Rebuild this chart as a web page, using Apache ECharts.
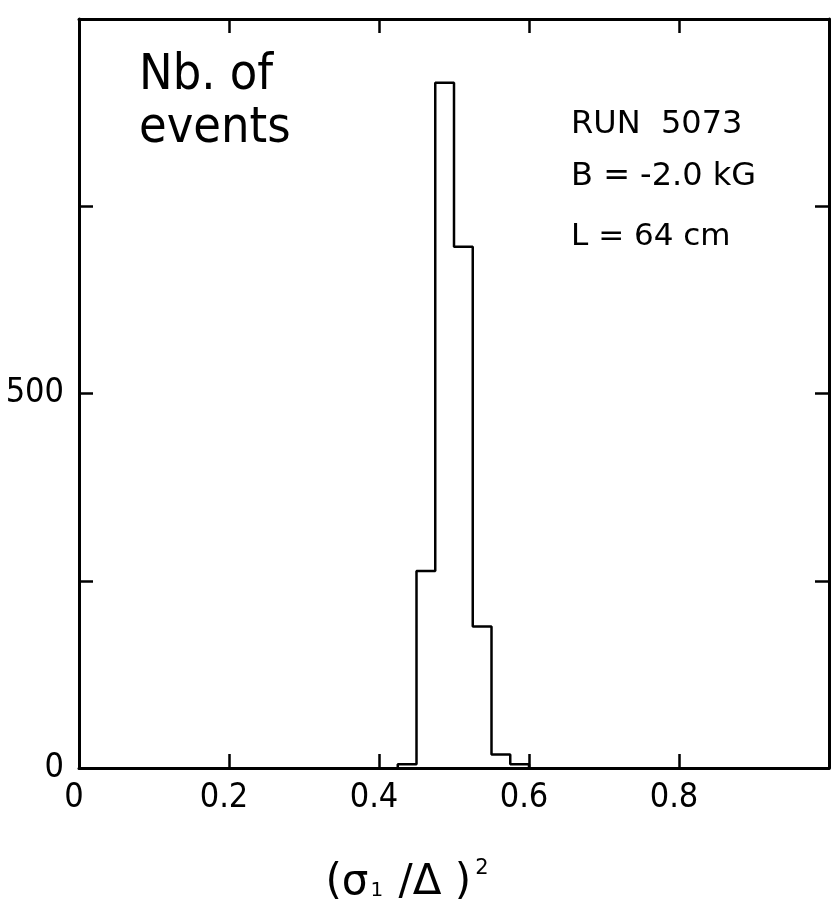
<!DOCTYPE html>
<html>
<head>
<meta charset="utf-8">
<script src="https://cdn.jsdelivr.net/npm/echarts@6/dist/echarts.min.js"></script>
<style>
  html, body { margin: 0; padding: 0; background: #fff; }
  #chart { width: 832px; height: 911px; }
</style>
</head>
<body>
<div id="chart"></div>
<script>
// ---- data ----
const binLeftEdges = [0.425, 0.45, 0.475, 0.5, 0.525, 0.55, 0.575];
const binCounts    = [5, 263, 915, 696, 189, 18, 5];
const binWidth = 0.025;
const xTickLabels = ['0', '0.2', '0.4', '0.6', '0.8'];
const yTickLabels = ['0', '500'];
const annotationLeft = ['Nb. of', 'events'];
const annotationRight = ['RUN  5073', 'B = -2.0 kG', 'L = 64 cm'];

// build histogram outline points from the bins
const outline = [[binLeftEdges[0], 0]];
binLeftEdges.forEach((e, i) => outline.push([e, binCounts[i]]));
outline.push([binLeftEdges[binLeftEdges.length - 1] + binWidth, 0]);

const COND = "'DejaVu Sans Condensed', 'Liberation Sans Narrow', 'DejaVu Sans', sans-serif";
const WIDE = "'DejaVu Sans', sans-serif";
const lineW = 3;

function xAx(pos, showLabels) {
  return {
    type: 'value', position: pos, min: 0, max: 1, interval: 0.2,
    axisLine: { show: true, onZero: false, lineStyle: { color: '#000', width: lineW } },
    axisTick: { show: true, inside: true, length: 14, lineStyle: { color: '#000', width: 2.5 } },
    axisLabel: {
      show: showLabels, margin: 13, color: '#000', fontFamily: COND, fontSize: 34,
      padding: [0, 10, 0, 0],
      formatter: v => { const s = String(+v.toFixed(1)); return xTickLabels.indexOf(s) >= 0 ? s : ''; }
    },
    splitLine: { show: false }
  };
}
function yAx(pos, showLabels) {
  return {
    type: 'value', position: pos, min: 0, max: 1000, interval: 250,
    axisLine: { show: true, onZero: false, lineStyle: { color: '#000', width: lineW } },
    axisTick: { show: true, inside: true, length: 14, lineStyle: { color: '#000', width: 2.5 } },
    axisLabel: {
      show: showLabels, margin: 15, color: '#000', fontFamily: COND, fontSize: 34,
      padding: [0, 0, 12, 0],
      formatter: v => { const s = String(v); return yTickLabels.indexOf(s) >= 0 ? s : ''; }
    },
    splitLine: { show: false }
  };
}

const chart = echarts.init(document.getElementById('chart'), null, { renderer: 'canvas' });
chart.setOption({
  backgroundColor: '#fff',
  animation: false,
  grid: { left: 79, right: 3, top: 19, bottom: 143, containLabel: false },
  xAxis: [xAx('bottom', true), xAx('top', false)],
  yAxis: [yAx('left', true), yAx('right', false)],
  series: [{
    type: 'line', xAxisIndex: 0, yAxisIndex: 0,
    data: outline, step: 'end', symbol: 'none',
    lineStyle: { color: '#000', width: 2.5 }
  }],
  graphic: [
    { type: 'text', left: 139, top: 50, style: { text: annotationLeft.join('\n'), font: '50px ' + COND, fill: '#000', lineHeight: 53 } },
    { type: 'text', x: 571, y: 125, style: { text: annotationRight[0], font: '32px ' + WIDE, fill: '#000', verticalAlign: 'middle' } },
    { type: 'text', x: 571, y: 177, style: { text: annotationRight[1], font: '32px ' + WIDE, fill: '#000', verticalAlign: 'middle' } },
    { type: 'text', x: 571, y: 237, style: { text: annotationRight[2], font: '31px ' + WIDE, fill: '#000', verticalAlign: 'middle' } },
    { type: 'text', x: 407, y: 883, style: {
        text: '{m|(σ}{sub|1}{m| /Δ )}{sup|2}',
        align: 'center', verticalAlign: 'middle', fill: '#000',
        rich: {
          m: { fontFamily: WIDE, fontSize: 42, fill: '#000' },
          sub: { fontFamily: WIDE, fontSize: 20, fill: '#000', padding: [16, 2, 0, 2] },
          sup: { fontFamily: WIDE, fontSize: 21, fill: '#000', padding: [0, 0, 28, 4] }
        }
    } }
  ]
});
</script>
</body>
</html>
